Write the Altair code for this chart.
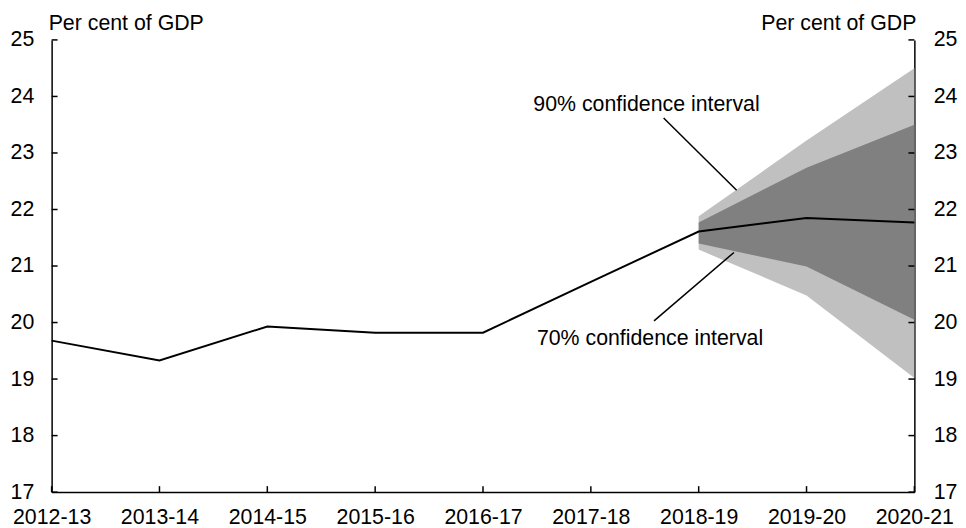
import altair as alt
import pandas as pd

years = ["2012-13", "2013-14", "2014-15", "2015-16", "2016-17", "2017-18", "2018-19", "2019-20", "2020-21"]
values = [19.68, 19.33, 19.93, 19.82, 19.82, 20.72, 21.61, 21.85, 21.77]

band_idx = [6, 7, 8]
ci90_lo = [21.29, 20.48, 19.02]
ci90_hi = [21.88, 23.22, 24.50]
ci70_lo = [21.40, 20.99, 20.05]
ci70_hi = [21.77, 22.74, 23.50]

y_ticks = [17, 18, 19, 20, 21, 22, 23, 24, 25]

ann_text = ["90% confidence interval", "70% confidence interval"]
ann_x = [5.516, 5.549]
ann_y = [23.85, 19.71]
lead_x1 = [5.675, 6.327]
lead_y1 = [23.62, 21.24]
lead_x2 = [6.352, 5.586]
lead_y2 = [22.34, 20.03]

W, H = 870, 456
FONT = "Liberation Sans"
FS = 21.5

line_df = pd.DataFrame({"i": list(range(len(years))), "v": values})
band_df = pd.DataFrame({"i": band_idx, "lo90": ci90_lo, "hi90": ci90_hi, "lo70": ci70_lo, "hi70": ci70_hi})
ann_df = pd.DataFrame({"x": ann_x, "y": ann_y, "t": ann_text})
lead_df = pd.DataFrame({"x1": lead_x1, "y1": lead_y1, "x2": lead_x2, "y2": lead_y2})
ytick_df = pd.DataFrame({"v": y_ticks})
xtick_df = pd.DataFrame({"i": list(range(len(years)))})

label_js = "[" + ",".join("'%s'" % y for y in years) + "]"

xscale = alt.Scale(domain=[0, len(years) - 1], nice=False, zero=False)
yscale = alt.Scale(domain=[17, 25], nice=False, zero=False)

x_axis = alt.Axis(values=list(range(len(years))), labelExpr=label_js + "[datum.value]",
                  ticks=False, grid=False, domain=True, domainColor="black", domainWidth=1.5,
                  labelFont=FONT, labelFontSize=FS, labelColor="black", labelPadding=15,
                  labelFlush=False, labelOverlap=False, title=None)
y_axis_l = alt.Axis(values=y_ticks, orient="left", ticks=False, grid=False, domain=True,
                    domainColor="black", domainWidth=1.5, labelFont=FONT, labelFontSize=FS,
                    labelColor="black", labelPadding=18, title=None)
y_axis_r = alt.Axis(values=y_ticks, orient="right", ticks=False, grid=False, domain=True,
                    domainColor="black", domainWidth=1.5, labelFont=FONT, labelFontSize=FS,
                    labelColor="black", labelPadding=19, title=None)


def Yq(field):
    return alt.Y(field, scale=yscale, axis=None)


def Xq(field):
    return alt.X(field, scale=xscale, axis=x_axis)


base_band = alt.Chart(band_df)
area90 = base_band.mark_area(color="#C0C0C0", opacity=1).encode(
    x=Xq("i:Q"),
    y=alt.Y("lo90:Q", scale=yscale, axis=y_axis_l), y2="hi90:Q")
area70 = base_band.mark_area(color="#808080", opacity=1).encode(
    x=Xq("i:Q"), y=Yq("lo70:Q"), y2="hi70:Q")

line = alt.Chart(line_df).mark_line(color="black", strokeWidth=2).encode(
    x=Xq("i:Q"), y=Yq("v:Q"))

right_axis = alt.Chart(line_df).mark_line(opacity=0).encode(
    x=Xq("i:Q"), y=alt.Y("v:Q", scale=yscale, axis=y_axis_r))

lt = alt.Chart(ytick_df).mark_rule(color="black", strokeWidth=1.5).encode(
    y=Yq("v:Q"), x=alt.value(0), x2=alt.value(6))
rt = alt.Chart(ytick_df).mark_rule(color="black", strokeWidth=1.5).encode(
    y=Yq("v:Q"), x=alt.value(W - 6), x2=alt.value(W))
bt = alt.Chart(xtick_df).mark_rule(color="black", strokeWidth=1.5).encode(
    x=Xq("i:Q"), y=alt.value(H - 6), y2=alt.value(H))

leads = alt.Chart(lead_df).mark_rule(color="black", strokeWidth=1.5).encode(
    x=Xq("x1:Q"), y=Yq("y1:Q"), x2="x2:Q", y2="y2:Q")

ann = alt.Chart(ann_df).mark_text(font=FONT, fontSize=FS, color="black", align="center",
                                  baseline="middle").encode(
    x=Xq("x:Q"), y=Yq("y:Q"), text="t:N")

unit_l = alt.Chart(pd.DataFrame({"t": ["Per cent of GDP"]})).mark_text(
    font=FONT, fontSize=FS, color="black", align="left", baseline="middle").encode(
    x=alt.value(-3), y=alt.value(-16), text="t:N")
unit_r = alt.Chart(pd.DataFrame({"t": ["Per cent of GDP"]})).mark_text(
    font=FONT, fontSize=FS, color="black", align="right", baseline="middle").encode(
    x=alt.value(W + 2), y=alt.value(-16), text="t:N")

chart = alt.layer(area90, area70, line, right_axis, lt, rt, bt, leads, ann, unit_l, unit_r).resolve_axis(
    y="independent"
).properties(
    width=W, height=H, autosize=alt.AutoSizeParams(type="none"),
    padding={"left": 44, "top": 30, "right": 44, "bottom": 34},
    background="white"
).configure_view(stroke=None)

chart.save("out.html", embed_options={"renderer": "svg", "actions": False})
